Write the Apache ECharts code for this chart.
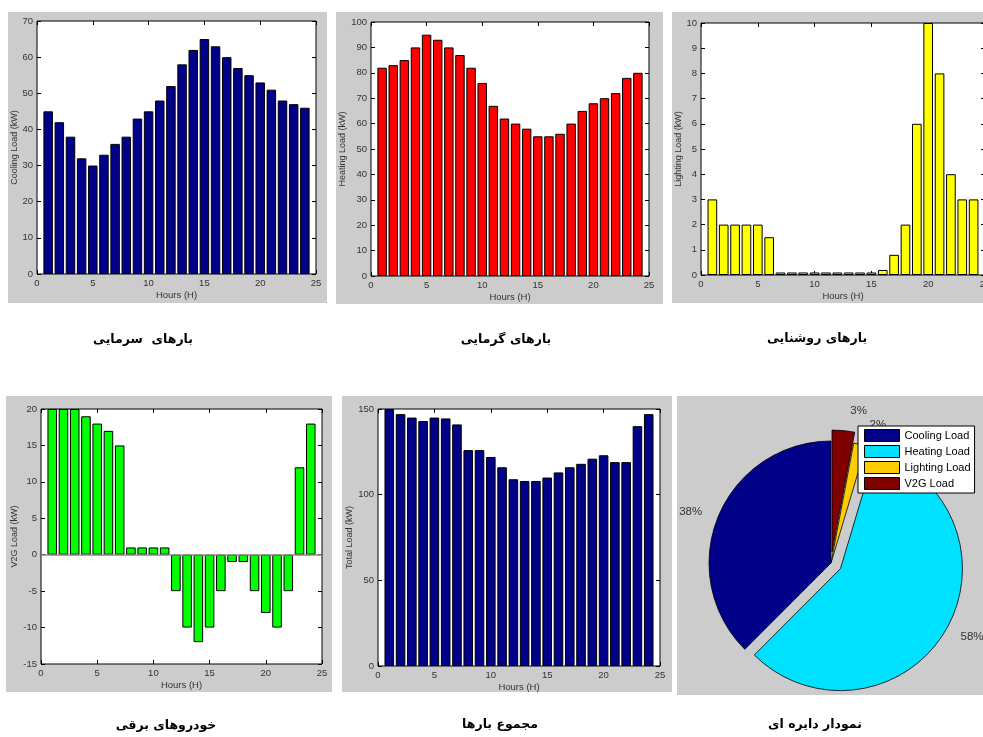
<!DOCTYPE html>
<html>
<head>
<meta charset="utf-8">
<script src="https://cdn.jsdelivr.net/npm/echarts@6/dist/echarts.min.js"></script>
<style>
html,body{margin:0;padding:0;background:#fff;}
#main{width:983px;height:737px;}
</style>
</head>
<body>
<div id="main"></div>
<script>
// ---------------- data ----------------
const hours = [1,2,3,4,5,6,7,8,9,10,11,12,13,14,15,16,17,18,19,20,21,22,23,24];
const coolingLoad = [45,42,38,32,30,33,36,38,43,45,48,52,58,62,65,63,60,57,55,53,51,48,47,46];
const heatingLoad = [82,83,85,90,95,93,90,87,82,76,67,62,60,58,55,55,56,60,65,68,70,72,78,80];
const lightingLoad = [3,2,2,2,2,1.5,0.1,0.1,0.1,0.1,0.1,0.1,0.1,0.1,0.1,0.2,0.8,2,6,10,8,4,3,3];
const v2gLoad = [20,20,20,19,18,17,15,1,1,1,1,-5,-10,-12,-10,-5,-1,-1,-5,-8,-10,-5,12,18];
const totalLoad = [150,147,145,143,145,144.5,141,126,126,122,116,109,108,108,110,113,116,118,121,123,119,119,140,147];
const pieNames = ['Cooling Load','Heating Load','Lighting Load','V2G Load'];
const yNames = ['Cooling Load (kW)','Heating Load (kW)','Lighting Load (kW)','V2G Load (kW)','Total Load (kW)'];
const xName = 'Hours (H)';
const captions = ['بارهای  سرمایی','بارهای گرمایی','بارهای روشنایی','خودروهای برقی','مجموع بارها','نمودار دایره ای'];
const xMin = 0, xMax = 25, xStep = 5;
const yRanges = [[0,70,10],[0,100,10],[0,10,1],[-15,20,5],[0,150,50]];

// ---------------- layout ----------------
const panels = [
  {x:8, y:12, w:319, h:291},
  {x:336, y:12, w:327, h:292},
  {x:672, y:12, w:311, h:291},
  {x:6, y:396, w:326, h:296},
  {x:342, y:396, w:330, h:296},
  {x:677, y:396, w:306, h:299}
];
const grids = [
  {left:37, top:21, width:279, height:253},
  {left:371, top:22, width:278, height:254},
  {left:701, top:23, width:284, height:252},
  {left:41, top:409, width:281, height:255},
  {left:378, top:409, width:282, height:257}
];
const nameGaps = [18, 21, 18, 21, 23];
const captionPos = [[143,340],[506,340],[817,339],[166,726],[500,725],[815,725]];
const barColors = ['#000088','#ff0000','#ffff00','#00ff00','#000088'];
const pieColors = ['#000088','#00e0ff','#ffcc00','#800000'];
const pieLabelLen = [12, 12, 20, 20];
const seriesVals = [coolingLoad, heatingLoad, lightingLoad, v2gLoad, totalLoad];

const FONT = 'Liberation Sans, Arial, sans-serif';
const xAxes = [], yAxes = [], series = [];
grids.forEach((g, i) => {
  g.show = true; g.backgroundColor = '#fff'; g.borderColor = '#000'; g.borderWidth = 1;
  g.outerBoundsMode = 'none'; g.containLabel = false;
  const [ymin, ymax, ystep] = yRanges[i];
  const tick = {show:true, inside:true, length:4, lineStyle:{color:'#000', width:1}};
  xAxes.push({
    type:'value', gridIndex:i, min:xMin, max:xMax, interval:xStep, position:'bottom',
    axisLine:{show:false, onZero:false}, axisTick:tick, splitLine:{show:false},
    axisLabel:{fontSize:9.5, color:'#333', margin:4, fontFamily:FONT},
    name:xName, nameLocation:'middle', nameGap:16,
    nameTextStyle:{fontSize:9.5, color:'#333', fontFamily:FONT}
  });
  xAxes.push({
    type:'value', gridIndex:i, min:xMin, max:xMax, interval:xStep, position:'top',
    axisLine:{show:false, onZero:false}, axisTick:tick, splitLine:{show:false}, axisLabel:{show:false}
  });
  yAxes.push({
    type:'value', gridIndex:i, min:ymin, max:ymax, interval:ystep, position:'left',
    axisLine:{show:false, onZero:false}, axisTick:tick, splitLine:{show:false},
    axisLabel:{fontSize:9.5, color:'#333', margin:4, fontFamily:FONT},
    name:yNames[i], nameLocation:'middle', nameGap:nameGaps[i],
    nameTextStyle:{fontSize:9, color:'#333', fontFamily:FONT}
  });
  yAxes.push({
    type:'value', gridIndex:i, min:ymin, max:ymax, interval:ystep, position:'right',
    axisLine:{show:false, onZero:false}, axisTick:tick, splitLine:{show:false}, axisLabel:{show:false}
  });
  const s = {
    type:'bar', xAxisIndex:2*i, yAxisIndex:2*i,
    data: seriesVals[i].map((v, k) => [hours[k], v]),
    barWidth:'85%',
    itemStyle:{color:barColors[i], borderColor:'#000', borderWidth:1},
    emphasis:{disabled:true}, silent:true
  };
  if (i === 3) {
    s.markLine = {symbol:'none', silent:true, label:{show:false},
      lineStyle:{color:'#888', width:1.5, type:'solid'}, data:[{yAxis:0}]};
  }
  series.push(s);
});

const sum = a => a.reduce((p, c) => p + c, 0);
const pieVals = [sum(coolingLoad), sum(heatingLoad), sum(lightingLoad), sum(v2gLoad)];
series.push({
  type:'pie', center:[831,563], radius:122, startAngle:90, clockwise:false,
  selectedMode:'multiple', selectedOffset:11, avoidLabelOverlap:false,
  emphasis:{disabled:true}, silent:true,
  itemStyle:{borderColor:'#000', borderWidth:0.8},
  label:{show:true, position:'outside', fontSize:11.5, color:'#333', fontFamily:FONT,
    formatter: p => Math.round(p.percent) + '%'},
  labelLine:{show:false, length:12, length2:0},
  data: pieNames.map((n, k) => ({name:n, value:pieVals[k], selected:(k===1||k===3),
    labelLine:{show:false, length:pieLabelLen[k], length2:0},
    itemStyle:{color:pieColors[k]}}))
});

const graphics = [];
panels.forEach(p => graphics.push({type:'rect', z:-100, silent:true,
  shape:{x:p.x, y:p.y, width:p.w, height:p.h}, style:{fill:'#cccccc'}}));
captions.forEach((c, k) => graphics.push({type:'text', silent:true, z:10,
  x:captionPos[k][0], y:captionPos[k][1],
  style:{text:c, fontSize:12.5, fontWeight:'bold', fontFamily:'DejaVu Sans', fill:'#000',
    align:'center', verticalAlign:'middle', textAlign:'center', textVerticalAlign:'middle'}}));

const chart = echarts.init(document.getElementById('main'), null, {renderer:'canvas'});
chart.setOption({
  animation:false,
  backgroundColor:'#fff',
  graphic:{elements:graphics},
  grid:grids,
  xAxis:xAxes,
  yAxis:yAxes,
  legend:{
    data:pieNames, orient:'vertical', left:858, top:426,
    backgroundColor:'#fff', borderColor:'#000', borderWidth:1,
    padding:[3,4,3,6], itemGap:3, itemWidth:35, itemHeight:12, icon:'rect',
    itemStyle:{borderColor:'#000', borderWidth:1},
    textStyle:{fontSize:11, color:'#000', fontFamily:FONT},
    selectedMode:false
  },
  series:series
});
</script>
</body>
</html>
